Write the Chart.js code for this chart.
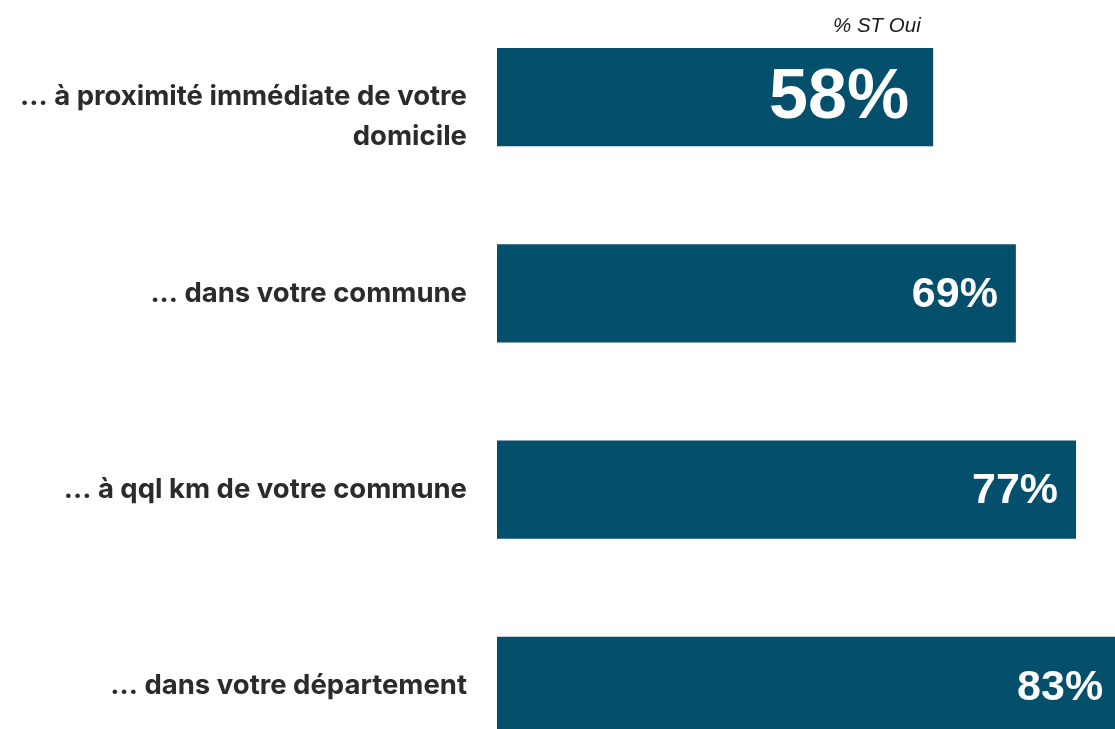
<!DOCTYPE html>
<html>
<head>
<meta charset="utf-8">
<script src="https://cdn.jsdelivr.net/npm/chart.js@4"></script>
<style>
  html, body { margin: 0; padding: 0; background: #ffffff; overflow: hidden; width: 1115px; height: 729px; }
  #chartProximite { position: absolute; left: 0; top: -1px; }
  #note { position: absolute; left: 833px; top: 13px; font: italic 20.5px "Liberation Sans", Arial, sans-serif; color: #1a1a1a; }
</style>
</head>
<body>
<canvas id="chartProximite" width="1249" height="785"></canvas>
<div id="note">% ST Oui</div>
<script>
// Libellés et valeurs (% ST Oui)
const categories = [
    ['', '... à proximité immédiate de votre', 'domicile'], // ligne vide : libellé un peu plus bas que la barre
    '... dans votre commune',
    '... à qql km de votre commune',
    '... dans votre département'
];
const values = [58, 69, 77, 83];
const valueLabels = ['58%', '69%', '77%', '83%'];

// Étiquettes blanches à l'intérieur de la barre
const labelsInside = {
    id: 'labelsInside',
    afterDatasetsDraw(chart) {
        const ctx = chart.ctx;
        const meta = chart.getDatasetMeta(0);
        ctx.save();
        ctx.fillStyle = '#ffffff';
        ctx.textAlign = 'right';
        ctx.textBaseline = 'middle';
        meta.data.forEach((bar, i) => {
            const size = i === 0 ? 70 : 43; // le premier est plus grand
            const pad = i === 0 ? 24 : 18;
            ctx.font = 'bold ' + size + 'px "Liberation Sans", Arial, sans-serif';
            ctx.fillText(valueLabels[i], bar.x - pad, bar.y + 2);
        });
        ctx.restore();
    }
};

new Chart(document.getElementById('chartProximite').getContext('2d'), {
    type: 'bar',
    data: {
        labels: categories,
        datasets: [{
            data: values,
            backgroundColor: '#04506c',
            borderWidth: 0,
            barPercentage: 0.5,
            categoryPercentage: 1.0
        }]
    },
    options: {
        indexAxis: 'y',
        responsive: false,
        animation: false,
        layout: { padding: 0 },
        plugins: {
            legend: { display: false },
            tooltip: { enabled: false }
        },
        scales: {
            x: {
                display: false,
                min: 0,
                max: 100
            },
            y: {
                afterFit: (scale) => {
                    scale.width = 497;
                    // pas de marge verticale : les barres occupent toute la hauteur
                    scale.paddingTop = 0;
                    scale.paddingBottom = 0;
                },
                grid: { display: false, drawTicks: false, tickLength: 0 },
                border: { display: false },
                ticks: {
                    color: '#2b2b2b',
                    padding: 30,
                    font: { size: 27.5, weight: 'bold', family: 'Inter, sans-serif', lineHeight: 1.45 }
                }
            }
        }
    },
    plugins: [labelsInside]
});
</script>
</body>
</html>
